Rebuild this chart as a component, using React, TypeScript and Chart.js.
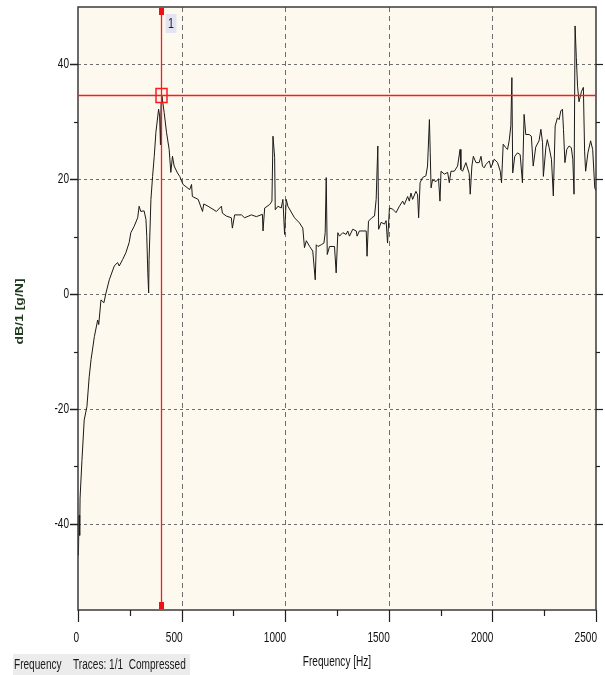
import React, { useEffect, useRef } from 'react';
import { Chart, registerables } from 'chart.js';

Chart.register(...registerables);

// Frequency response trace (Hz, dB re 1 g/N)
const freqHz = [
  2, 5, 8, 10, 19, 30, 43, 54, 63, 79, 95, 100, 111, 125, 135, 151, 175, 191, 199, 215,
  231, 247, 255, 271, 288, 295, 303, 319, 328, 332, 337, 341, 343, 352, 360, 368, 376, 389, 394, 398,
  401, 405, 416, 427, 440, 448, 456, 464, 480, 491, 507, 539, 548, 552, 580, 601, 607, 628, 668, 692,
  697, 716, 740, 745, 756, 789, 804, 837, 861, 890, 893, 901, 925, 936, 941, 949, 952, 965, 981, 989,
  997, 1005, 1013, 1045, 1069, 1085, 1093, 1102, 1118, 1133, 1145, 1150, 1158, 1174, 1187, 1193, 1198, 1203, 1214, 1238,
  1246, 1254, 1262, 1278, 1294, 1302, 1310, 1326, 1343, 1347, 1358, 1391, 1395, 1402, 1418, 1431, 1439, 1447, 1451, 1463,
  1479, 1487, 1494, 1503, 1519, 1535, 1551, 1567, 1575, 1591, 1599, 1607, 1615, 1631, 1639, 1644, 1651, 1663, 1679, 1687,
  1696, 1700, 1704, 1711, 1728, 1740, 1747, 1752, 1768, 1784, 1792, 1800, 1816, 1832, 1844, 1848, 1856, 1872, 1888, 1893,
  1901, 1908, 1921, 1936, 1945, 1952, 1960, 1969, 1985, 1993, 2009, 2025, 2038, 2044, 2052, 2065, 2073, 2081, 2089, 2094,
  2098, 2108, 2121, 2134, 2145, 2153, 2161, 2177, 2188, 2197, 2209, 2225, 2234, 2242, 2246, 2258, 2265, 2274, 2285, 2294,
  2303, 2314, 2322, 2330, 2338, 2343, 2350, 2359, 2370, 2381, 2388, 2394, 2399, 2405, 2411, 2418, 2430, 2439, 2445, 2450,
  2461, 2474, 2484, 2494, 2500,
];

const levelDb = [
  -45.5, -38.5, -42, -35.5, -29, -21.9, -19.6, -14.4, -11.4, -7.4, -4.5, -5.3, -1, -1.5, 0.2, 2.5, 4.9, 5.5, 4.9, 6,
  7.2, 9, 10.7, 11.8, 13.3, 15.3, 14.4, 14.5, 13, 10, 3.7, 0.2, 6, 16.5, 20.5, 24, 28.2, 32.2, 31, 26,
  33.3, 34.5, 31.6, 28.2, 25.2, 21.2, 24, 22.3, 21.1, 20.5, 19.1, 18.2, 19.1, 17, 16.5, 14.4, 15.7, 15.3, 14.4, 15.3,
  14.1, 13.6, 13.3, 11.5, 13.8, 13.8, 13.3, 13.8, 13.5, 13.9, 11, 15, 15.6, 16.2, 27.5, 23.8, 14.7, 15.3, 15, 16.5,
  10.4, 16.5, 15.3, 13.3, 12.4, 11.5, 8.1, 9.3, 8.3, 7.5, 2.5, 8.6, 8.3, 8.6, 8.9, 10.7, 20.3, 6.9, 8.3, 8.3,
  3.7, 10.7, 10.1, 10.7, 10.4, 11, 10.1, 11.3, 11, 10.1, 11, 11, 6.6, 12.7, 13.3, 13.6, 16.5, 25.8, 11.3, 12.5,
  12.2, 12.8, 8.9, 15, 14.8, 14.2, 15.3, 16.2, 15.6, 17, 16.2, 17.6, 16.5, 17.9, 17.3, 13.3, 19.4, 20.3, 20.6, 22.3,
  30.4, 24.6, 18.5, 19.9, 19.6, 20.1, 16.2, 21.4, 20.9, 21.2, 19.4, 21.4, 21.4, 22.3, 25.2, 21.7, 21.4, 22.9, 21, 17.4,
  22.3, 24, 22.9, 22.9, 24, 22.3, 22, 22.6, 23.2, 22, 23.5, 22.9, 21.4, 19.4, 26.1, 25.5, 25.2, 26.7, 29.3, 37.7,
  21.1, 24, 24.6, 24.3, 19.4, 31.3, 27.8, 27.8, 27.5, 22.3, 25.6, 26.7, 28.7, 26.4, 20.5, 25.5, 26.9, 25.5, 23.5, 17.1,
  29.3, 30.7, 30.4, 31.9, 32.2, 28.7, 22.9, 25.2, 25.8, 25.5, 23.5, 17.4, 46.7, 41.2, 36.2, 33.5, 35.3, 36, 24.9, 21.4,
  24.6, 26.7, 25.2, 18.5, 18,
];

// Axis ticks and grid
const xLabelTicks = [0, 500, 1000, 1500, 2000, 2500];
const xMinorTicks = [250, 750, 1250, 1750, 2250];
const xGridLines = [500, 1000, 1500, 2000];
const yLabelTicks = [-40, -20, 0, 20, 40];
const yMinorTicks = [-30, -10, 10, 30];
const yGridLines = [-40, -20, 0, 20, 40];

const xTitle = 'Frequency [Hz]';
const yTitle = 'dB/1 [g/N]';
const statusItems = ['Frequency', 'Traces: 1/1  Compressed'];

// Cursor 1 position
const cursorFreq = 400;
const cursorLevel = 34.6;
const cursorName = '1';

const SANS = "'Liberation Sans', Arial, sans-serif";
// the analyzer uses a tall, narrow UI face: squeeze glyphs horizontally
const SQUEEZE = 0.72;

function squeezedText(
  ctx: CanvasRenderingContext2D,
  text: string,
  x: number,
  y: number,
  align: CanvasTextAlign,
  font: string,
  color: string,
) {
  ctx.save();
  ctx.translate(x, y);
  ctx.scale(SQUEEZE, 1);
  ctx.font = font;
  ctx.fillStyle = color;
  ctx.textAlign = align;
  ctx.textBaseline = 'middle';
  ctx.fillText(text, 0, 0);
  ctx.restore();
}

const analyzerFrame = {
  id: 'analyzerFrame',
  beforeDraw(chart: any) {
    const { ctx, chartArea: a } = chart;
    ctx.save();
    ctx.fillStyle = '#fdf9ee';
    ctx.fillRect(a.left, a.top, a.right - a.left, a.bottom - a.top);
    ctx.restore();
  },
  beforeDatasetsDraw(chart: any) {
    const { ctx, chartArea: a, scales } = chart;
    const xs = scales.x;
    const ys = scales.y;
    ctx.save();
    ctx.strokeStyle = '#6e6e6e';
    ctx.lineWidth = 1;
    ctx.setLineDash([3, 3]);
    for (const v of yGridLines) {
      const y = Math.round(ys.getPixelForValue(v)) + 0.5;
      ctx.beginPath();
      ctx.moveTo(a.left, y);
      ctx.lineTo(a.right, y);
      ctx.stroke();
    }
    ctx.setLineDash([5, 4]);
    for (const v of xGridLines) {
      const x = Math.round(xs.getPixelForValue(v)) + 0.5;
      ctx.beginPath();
      ctx.moveTo(x, a.top);
      ctx.lineTo(x, a.bottom);
      ctx.stroke();
    }
    ctx.restore();
  },
  afterDatasetsDraw(chart: any) {
    const { ctx, chartArea: a, scales } = chart;
    const xs = scales.x;
    const ys = scales.y;
    ctx.save();

    // plot frame
    ctx.strokeStyle = '#3a3a3a';
    ctx.lineWidth = 1.5;
    ctx.strokeRect(a.left, a.top, a.right - a.left, a.bottom - a.top);

    // tick marks
    ctx.strokeStyle = '#202020';
    const tick = (x1: number, y1: number, x2: number, y2: number, w: number) => {
      ctx.lineWidth = w;
      ctx.beginPath();
      ctx.moveTo(x1, y1);
      ctx.lineTo(x2, y2);
      ctx.stroke();
    };
    for (const v of yLabelTicks) {
      const y = Math.round(ys.getPixelForValue(v)) + 0.5;
      tick(a.left - 8, y, a.left, y, 1.5);
      tick(a.right, y, a.right + 7, y, 1.2);
    }
    for (const v of yMinorTicks) {
      const y = Math.round(ys.getPixelForValue(v)) + 0.5;
      tick(a.left - 4, y, a.left, y, 1.2);
      tick(a.right, y, a.right + 4, y, 1.2);
    }
    for (const v of xLabelTicks) {
      const x = Math.round(xs.getPixelForValue(v)) + 0.5;
      tick(x, a.bottom, x, a.bottom + 12, 1.2);
    }
    for (const v of xMinorTicks) {
      const x = Math.round(xs.getPixelForValue(v)) + 0.5;
      tick(x, a.bottom, x, a.bottom + 6, 1.2);
    }

    // cursor crosshair
    const cx = Math.round(xs.getPixelForValue(cursorFreq)) + 0.5;
    const cy = Math.round(ys.getPixelForValue(cursorLevel)) + 0.5;
    ctx.strokeStyle = '#ff1a1a';
    ctx.lineWidth = 1.3;
    ctx.beginPath();
    ctx.moveTo(cx, a.top);
    ctx.lineTo(cx, a.bottom);
    ctx.moveTo(a.left, cy);
    ctx.lineTo(a.right, cy);
    ctx.stroke();
    ctx.fillStyle = '#ee1111';
    ctx.fillRect(cx - 2.5, a.top + 1, 5, 7);
    ctx.fillRect(cx - 2.5, a.bottom - 8, 5, 7);
    ctx.lineWidth = 1.5;
    ctx.strokeRect(cx - 5.5, cy - 7, 11, 14);

    // cursor name tag
    ctx.fillStyle = '#e3e3f1';
    ctx.fillRect(cx + 4, a.top + 7, 11, 19);
    squeezedText(ctx, cursorName, cx + 9.5, a.top + 16.5, 'center', `15px ${SANS}`, '#1c1c3a');

    ctx.restore();
  },
  afterDraw(chart: any) {
    const { ctx, chartArea: a, scales } = chart;
    const xs = scales.x;
    const ys = scales.y;
    const labelFont = `14px ${SANS}`;

    // axis tick labels
    for (const v of yLabelTicks) {
      squeezedText(ctx, String(v), a.left - 9, ys.getPixelForValue(v), 'right', labelFont, '#111');
    }
    for (const v of xLabelTicks) {
      squeezedText(ctx, String(v), xs.getPixelForValue(v) + 1, a.bottom + 28, 'right', labelFont, '#111');
    }

    // axis titles
    squeezedText(ctx, xTitle, (a.left + a.right) / 2, a.bottom + 52, 'center', `14px ${SANS}`, '#111');
    ctx.save();
    ctx.translate(20, (a.top + a.bottom) / 2 + 3);
    ctx.scale(SQUEEZE, 1);
    ctx.rotate(-Math.PI / 2);
    ctx.font = `bold 14px ${SANS}`;
    ctx.fillStyle = '#1f3a1f';
    ctx.textAlign = 'center';
    ctx.textBaseline = 'middle';
    ctx.fillText(yTitle, 0, 0);
    ctx.restore();

    // status strip
    ctx.save();
    ctx.fillStyle = '#ececec';
    ctx.fillRect(13, 654, 177, 21);
    ctx.restore();
    squeezedText(ctx, statusItems[0], 14, 665, 'left', `14px ${SANS}`, '#1a1a1a');
    squeezedText(ctx, statusItems[1], 73, 665, 'left', `14px ${SANS}`, '#1a1a1a');
  },
};

export default function App() {
  const canvasRef = useRef<HTMLCanvasElement | null>(null);

  useEffect(() => {
    if (!canvasRef.current) return;
    const points = freqHz.map((f, i) => ({ x: f, y: levelDb[i] }));
    const chart = new Chart(canvasRef.current, {
      type: 'line',
      data: {
        datasets: [
          {
            data: points,
            borderColor: '#1a1a1a',
            borderWidth: 1,
            pointRadius: 0,
            pointHoverRadius: 0,
            tension: 0,
          },
        ],
      },
      plugins: [analyzerFrame],
      options: {
        responsive: false,
        animation: false,
        events: [],
        layout: { autoPadding: false, padding: { top: 7, right: 9, left: 0, bottom: 0 } },
        plugins: { legend: { display: false }, tooltip: { enabled: false } },
        scales: {
          x: {
            type: 'linear',
            min: 0,
            max: 2500,
            grid: { display: false, drawTicks: false },
            border: { display: false },
            ticks: { display: false },
            afterFit: (s: any) => {
              s.height = 65;
            },
          },
          y: {
            type: 'linear',
            min: -55,
            max: 50,
            grid: { display: false, drawTicks: false },
            border: { display: false },
            ticks: { display: false },
            afterFit: (s: any) => {
              s.width = 78;
            },
          },
        },
      },
    } as any);
    return () => chart.destroy();
  }, []);

  return (
    <div style={{ position: 'absolute', left: 0, top: 0, width: 605, height: 675, background: '#fff' }}>
      <canvas ref={canvasRef} width={605} height={675} style={{ display: 'block' }} />
    </div>
  );
}
